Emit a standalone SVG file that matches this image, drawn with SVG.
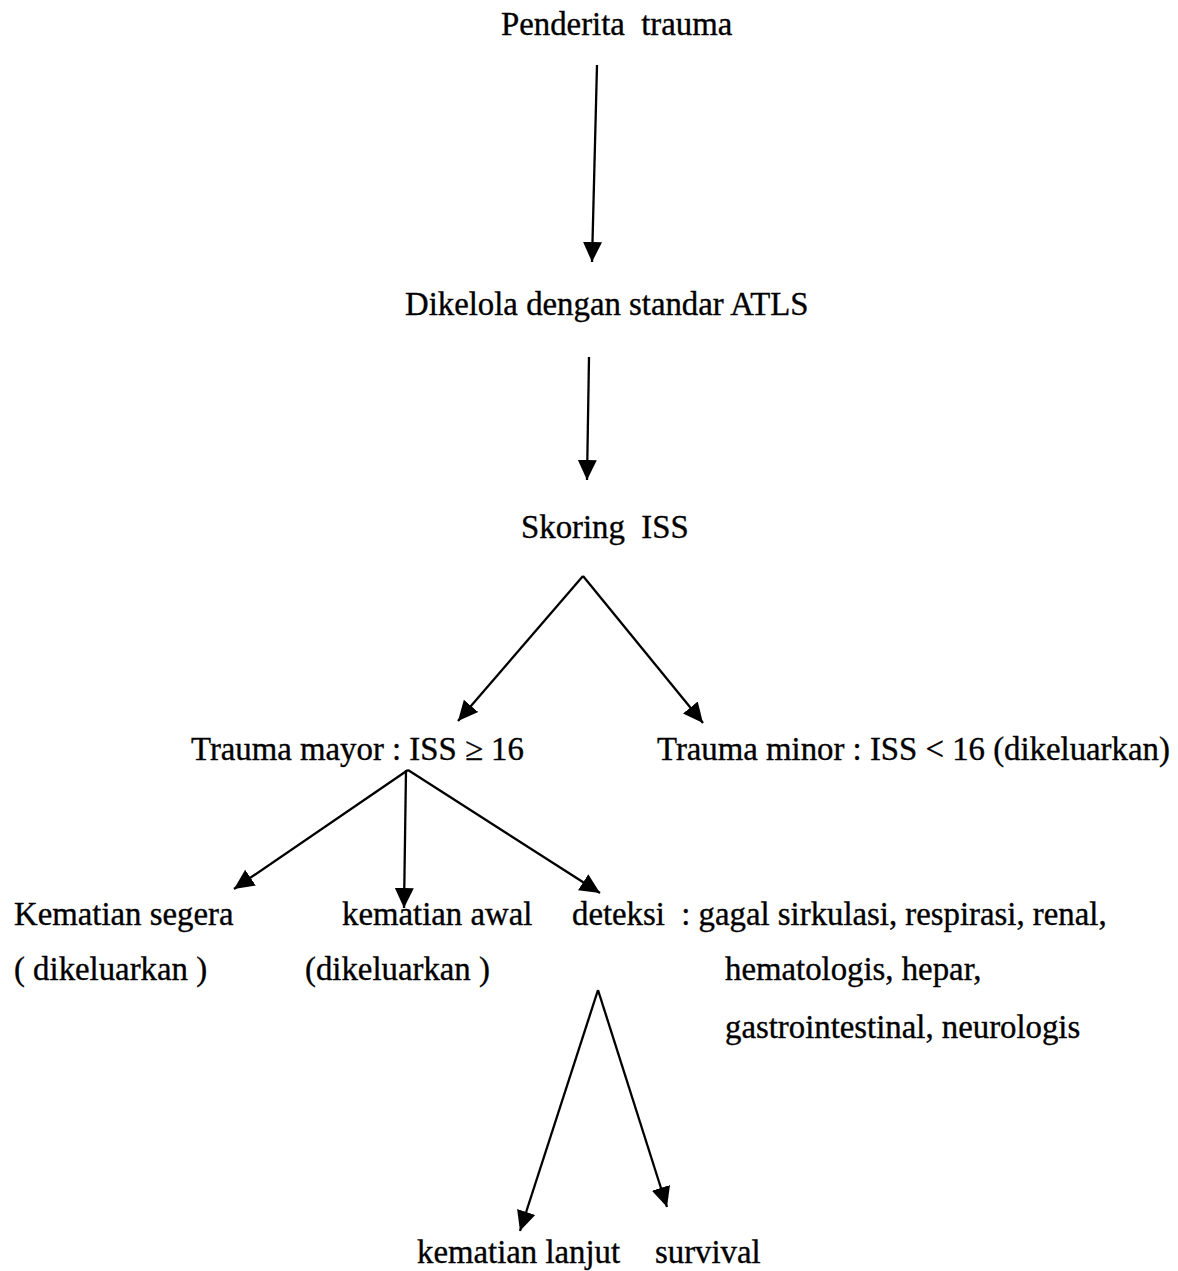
<svg xmlns="http://www.w3.org/2000/svg" width="1178" height="1271" viewBox="0 0 1178 1271">
<style>
text{font-family:"Liberation Serif","Times New Roman",serif;font-size:32.8px;fill:#000;stroke:#000;stroke-width:0.35;white-space:pre}
.c line{stroke:#000;stroke-width:2.3;fill:none}
</style>
<defs>
<marker id="ah" markerUnits="userSpaceOnUse" markerWidth="22" markerHeight="22" viewBox="0 0 22 22" refX="20" refY="11" orient="auto">
<path d="M0,1.5 L20,11 L0,20.5 Z" fill="#000"/>
</marker>
</defs>
<rect width="1178" height="1271" fill="#fff"/>
<g id="n1"><text x="501" y="35">Penderita  trauma</text></g>
<g id="n2"><text x="405" y="315">Dikelola dengan standar ATLS</text></g>
<g id="n3"><text x="521" y="538">Skoring  ISS</text></g>
<g id="n4"><text x="191" y="760">Trauma mayor : ISS ≥ 16</text></g>
<g id="n5"><text x="657" y="760">Trauma minor : ISS &lt; 16 (dikeluarkan)</text></g>
<g id="n6"><text x="14" y="925">Kematian segera</text><text x="14" y="980">( dikeluarkan )</text></g>
<g id="n7"><text x="342" y="925">kematian awal</text><text x="305" y="980">(dikeluarkan )</text></g>
<g id="n8"><text x="572" y="925">deteksi  : gagal sirkulasi, respirasi, renal,</text><text x="725" y="980">hematologis, hepar,</text><text x="725" y="1038">gastrointestinal, neurologis</text></g>
<g id="n9"><text x="417" y="1263">kematian lanjut</text></g>
<g id="n10"><text x="655" y="1263">survival</text></g>
<g id="connectors" class="c">
<line x1="597" y1="65" x2="592" y2="262" marker-end="url(#ah)"/>
<line x1="589" y1="357" x2="587" y2="480" marker-end="url(#ah)"/>
<line x1="583" y1="576" x2="458" y2="721" marker-end="url(#ah)"/>
<line x1="583" y1="576" x2="703" y2="723" marker-end="url(#ah)"/>
<line x1="408" y1="770" x2="234" y2="889" marker-end="url(#ah)"/>
<line x1="406" y1="770" x2="404" y2="908" marker-end="url(#ah)"/>
<line x1="408" y1="770" x2="600" y2="893" marker-end="url(#ah)"/>
<line x1="598" y1="990" x2="520" y2="1231" marker-end="url(#ah)"/>
<line x1="598" y1="990" x2="667" y2="1207" marker-end="url(#ah)"/>
</g>
</svg>
